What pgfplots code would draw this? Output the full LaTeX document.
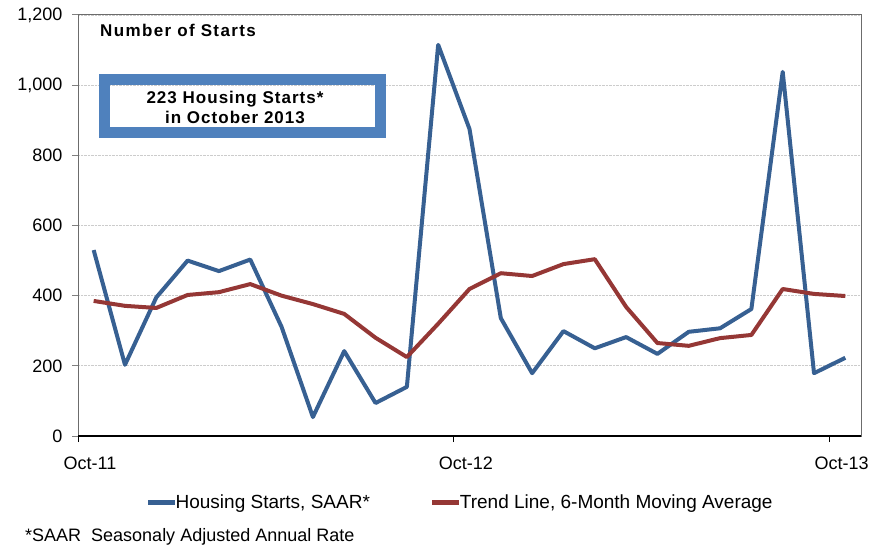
\documentclass[border=0pt]{standalone}
\usepackage{fontspec}
\setmainfont{Liberation Sans}
\usepackage{pgfplots}
\pgfplotsset{compat=1.18}
\definecolor{hsblue}{HTML}{376092}
\definecolor{trendred}{HTML}{953735}
\definecolor{boxblue}{HTML}{4F81BD}
\pgfplotstableread{
k starts trend
0 530 385
1 203 371
2 395 365
3 500 402
4 470 410
5 503 433
6 311 400
7 54 376
8 242 348
9 94 280
10 140 225
11 1115 320
12 875 419
13 336 464
14 179 456
15 299 490
16 250 504
17 282 368
18 234 265
19 297 257
20 307 279
21 362 288
22 1038 419
23 179 405
24 223 399
}\datatable
\begin{document}
\begin{tikzpicture}[x=1pt,y=1pt]
\useasboundingbox (0,0) rectangle (883,-551);
\begin{axis}[
  at={(78pt,-436pt)}, anchor=south west,
  scale only axis, width=783pt, height=421pt,
  xmin=-0.5, xmax=24.5, ymin=0, ymax=1200,
  ytick={0,200,...,1200},
  xtick={-0.5,11.5,23.5}, xticklabels={Oct-11,Oct-12,Oct-13},
  xticklabel style={xshift=12pt, yshift=-11pt},
  yticklabel style={xshift=-6pt},
  tick label style={font=\fontsize{18}{21}\selectfont},
  /pgf/number format/.cd, 1000 sep={,}, assume math mode=true, /pgfplots/.cd,
  tick align=outside, xtick pos=bottom, ytick pos=left,
  major tick length=6pt,
  tick style={line width=1pt},
  xtick style={black},
  ytick style={gray},
  axis line style={draw=gray!85!black, line width=1pt},
  ymajorgrids, grid style={densely dotted, gray!40, line width=0.8pt},
  legend columns=2,
  legend style={at={(0.488,-0.157)}, anchor=center, draw=none, fill=none,
    font=\fontsize{19}{22}\selectfont, inner sep=0pt,
    /tikz/every even column/.append style={column sep=58pt}},
  legend image code/.code={\draw[#1, line width=5pt] (0pt,0pt) -- (27pt,0pt);},
]
\addplot[hsblue, line width=4pt, line join=round] table[x=k, y=starts] {\datatable};
\addlegendentry{\hspace{-4pt}Housing Starts, SAAR*}
\addplot[trendred, line width=4pt, line join=round] table[x=k, y=trend] {\datatable};
\addlegendentry{\hspace{-4pt}Trend Line, 6-Month Moving Average}
\draw[black, line width=1.2pt] (axis cs:-0.5,0) -- (axis cs:24.5,0);
\end{axis}
\node[anchor=west, inner sep=0pt, font=\bfseries\fontsize{17}{19}\selectfont\addfontfeatures{LetterSpace=8}] at (100,-30) {Number of Starts};
\draw[boxblue, line width=11pt] (104.5,-79.5) rectangle (380.5,-132.5);
\node[align=center, inner sep=0pt, font=\bfseries\fontsize{17}{20}\selectfont\addfontfeatures{LetterSpace=6}] at (235,-107) {223 Housing Starts*\\in October 2013};
\node[anchor=west, inner sep=0pt, font=\fontsize{18}{20}\selectfont] at (25,-537) {*SAAR\ \ Seasonaly Adjusted Annual Rate};
\end{tikzpicture}
\end{document}
